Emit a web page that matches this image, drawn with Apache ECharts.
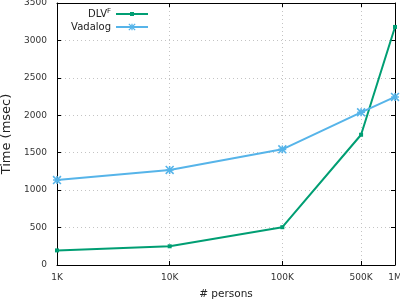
<!DOCTYPE html>
<html><head><meta charset="utf-8">
<script src="https://cdn.jsdelivr.net/npm/echarts@6/dist/echarts.min.js"></script>
<style>html,body{margin:0;padding:0;background:#fff}#c{width:400px;height:302px}</style>
</head><body><div id="c"></div>
<script>
const persons = [1000, 10000, 100000, 500000, 1000000];
const xTickLabels = ['1K', '10K', '100K', '500K', '1M'];
const dlvValues = [195, 250, 505, 1740, 3180];
const vadalogValues = [1135, 1270, 1545, 2040, 2245];
const yTicks = [0, 500, 1000, 1500, 2000, 2500, 3000, 3500];

const FONT = 'DejaVu Sans';
const green = '#009e73', blue = '#56b4e9';
const starPath = 'path://M0,4L10,4L10,6L0,6Z M4,0L6,0L6,10L4,10Z M0.7,-0.7L10.7,9.3L9.3,10.7L-0.7,0.7Z M9.3,-0.7L10.7,0.7L0.7,10.7L-0.7,9.3Z';

function xLabel(v) {
  const i = persons.findIndex(p => Math.abs(p - v) / p < 1e-6);
  return i >= 0 ? xTickLabels[i] : '';
}

const chart = echarts.init(document.getElementById('c'), null, {renderer: 'canvas'});
const gridLine = {show: true, lineStyle: {color: '#c4c4c4', type: [1, 3], width: 1}};
chart.setOption({
  animation: false,
  textStyle: {fontFamily: FONT},
  grid: {left: 57, right: 5, top: 3, bottom: 37, containLabel: false, outerBoundsMode: 'none'},
  xAxis: [{
    type: 'log', min: persons[0], max: persons[persons.length - 1], logBase: 10,
    name: '# persons', nameLocation: 'middle', nameGap: 24,
    nameTextStyle: {fontSize: 10.5, color: '#222', fontFamily: FONT},
    axisLine: {show: true, onZero: false, lineStyle: {color: '#000', width: 1}},
    axisTick: {show: true, inside: true, length: 4, customValues: persons, lineStyle: {color: '#000'}},
    axisLabel: {customValues: persons, formatter: xLabel, fontSize: 9, color: '#333', margin: 8, fontFamily: FONT, hideOverlap: false},
    splitLine: gridLine, minorTick: {show: false}, minorSplitLine: {show: false}
  }, {
    type: 'log', position: 'top', min: persons[0], max: persons[persons.length - 1], logBase: 10,
    axisLine: {show: true, onZero: false, lineStyle: {color: '#000', width: 1}},
    axisTick: {show: true, inside: true, length: 4, customValues: persons, lineStyle: {color: '#000'}},
    axisLabel: {show: false, customValues: persons}, splitLine: {show: false}
  }],
  yAxis: [{
    type: 'value', min: yTicks[0], max: yTicks[yTicks.length - 1], interval: 500,
    name: 'Time (msec)', nameLocation: 'middle', nameGap: 40, nameRotate: 90,
    nameTextStyle: {fontSize: 13, color: '#222', fontFamily: FONT},
    axisLine: {show: true, lineStyle: {color: '#000', width: 1}},
    axisTick: {show: true, inside: true, length: 4, lineStyle: {color: '#000'}},
    axisLabel: {fontSize: 9, color: '#333', margin: 10, fontFamily: FONT, formatter: v => String(v)},
    splitLine: gridLine
  }, {
    type: 'value', position: 'right', min: yTicks[0], max: yTicks[yTicks.length - 1], interval: 500,
    axisLine: {show: true, lineStyle: {color: '#000', width: 1}},
    axisTick: {show: true, inside: true, length: 4, lineStyle: {color: '#000'}},
    axisLabel: {show: false}, splitLine: {show: false}
  }],
  legend: [{
    data: ['DLVF'], right: 251, top: 8, align: 'right', orient: 'vertical',
    itemWidth: 32, itemHeight: 5, padding: 0,
    formatter: () => '{a|DLV}{b|F}',
    textStyle: {fontSize: 10, color: '#222', fontFamily: FONT,
      rich: {a: {fontSize: 10, lineHeight: 12, color: '#222', fontFamily: FONT},
             b: {fontSize: 7, lineHeight: 7, color: '#222', fontFamily: FONT, verticalAlign: 'top'}}}
  }, {
    data: ['Vadalog'], right: 251, top: 22, align: 'right', orient: 'vertical',
    itemWidth: 32, itemHeight: 9, padding: 0,
    textStyle: {fontSize: 10, color: '#222', fontFamily: FONT}
  }],
  series: [{
    name: 'DLVF', type: 'line', xAxisIndex: 0, yAxisIndex: 0,
    data: persons.map((p, i) => [p, dlvValues[i]]),
    lineStyle: {color: green, width: 2}, itemStyle: {color: green},
    symbol: 'rect', symbolSize: 4, showAllSymbol: true
  }, {
    name: 'Vadalog', type: 'line', xAxisIndex: 0, yAxisIndex: 0,
    data: persons.map((p, i) => [p, vadalogValues[i]]),
    lineStyle: {color: blue, width: 2}, itemStyle: {color: blue},
    symbol: starPath, symbolSize: 9, showAllSymbol: true
  }]
});
</script></body></html>
